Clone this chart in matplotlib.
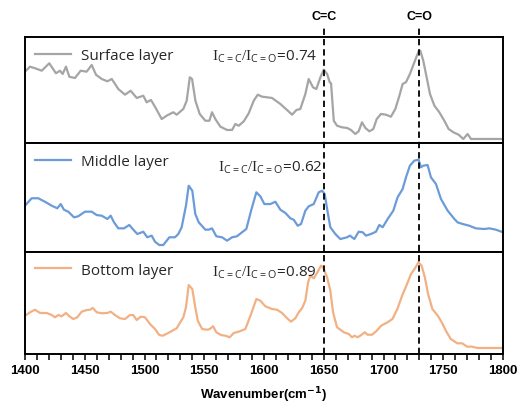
import matplotlib
matplotlib.use("Agg")
import matplotlib.pyplot as plt
from matplotlib.lines import Line2D
from matplotlib.transforms import blended_transform_factory
import numpy as np

# ---------------- data ----------------
surface_wn = [1400, 1404.2, 1408.4, 1414.0, 1420.3, 1425.9, 1429.3, 1431.5, 1434.3, 1437.1,
              1441.8, 1446.6, 1451.6, 1455.8, 1459.4, 1464.2, 1468.9, 1472.6, 1478.1, 1483.7,
              1488.4, 1493.5, 1499.0, 1501.8, 1505.4, 1508.8, 1514.4, 1518.6, 1524.1, 1526.9,
              1532.5, 1535.3, 1537.9, 1539.8, 1542.6, 1546.2, 1550.9, 1554.3, 1556.5, 1559.3,
              1563.5, 1569.1, 1573.3, 1576.0, 1578.9, 1583.1, 1587.2, 1591.4, 1594.8, 1598.4,
              1606.7, 1613.7, 1619.3, 1623.5, 1627.1, 1630.4, 1634.6, 1637.4, 1641.0, 1643.8,
              1647.2, 1650.0, 1652.8, 1655.0, 1656.1, 1658.4, 1661.1, 1665.3, 1669.5, 1672.8,
              1676.4, 1679.2, 1682.0, 1684.8, 1688.2, 1691.5, 1694.3, 1697.9, 1702.1, 1706.2,
              1709.9, 1713.3, 1716.0, 1718.8, 1722.1, 1725.8, 1729.4, 1730.8, 1733.3, 1736.1,
              1738.9, 1742.6, 1746.7, 1750.9, 1754.5, 1758.5, 1762.9, 1766.8, 1770.4, 1773.2,
              1800]
surface_int = [0.673, 0.720, 0.705, 0.682, 0.752, 0.658, 0.682, 0.651, 0.720, 0.625,
               0.613, 0.682, 0.673, 0.736, 0.644, 0.604, 0.582, 0.604, 0.509, 0.456,
               0.493, 0.425, 0.446, 0.384, 0.406, 0.342, 0.226, 0.258, 0.290, 0.267,
               0.321, 0.399, 0.620, 0.604, 0.399, 0.274, 0.210, 0.210, 0.290, 0.226,
               0.154, 0.123, 0.123, 0.179, 0.163, 0.205, 0.280, 0.399, 0.456, 0.437,
               0.425, 0.368, 0.311, 0.267, 0.311, 0.321, 0.462, 0.604, 0.525, 0.509,
               0.620, 0.692, 0.651, 0.573, 0.563, 0.210, 0.163, 0.148, 0.142, 0.123,
               0.085, 0.110, 0.195, 0.142, 0.110, 0.132, 0.226, 0.274, 0.267, 0.248,
               0.321, 0.446, 0.557, 0.573, 0.651, 0.761, 0.865, 0.871, 0.776, 0.620,
               0.462, 0.352, 0.290, 0.210, 0.132, 0.101, 0.078, 0.038, 0.085, 0.038,
               0.038]

middle_wn = [1400, 1405.6, 1411.1, 1416.7, 1422.3, 1427.0, 1429.9, 1432.6, 1436.2, 1441.0,
             1444.6, 1450.2, 1455.8, 1460.0, 1464.2, 1468.9, 1471.7, 1474.5, 1478.1, 1482.8,
             1487.3, 1490.6, 1494.0, 1499.0, 1502.3, 1506.0, 1508.8, 1512.4, 1515.7, 1520.8,
             1525.5, 1528.3, 1531.1, 1534.7, 1537.0, 1540.0, 1542.5, 1545.4, 1550.9, 1553.8,
             1556.5, 1560.1, 1564.9, 1569.1, 1573.3, 1577.4, 1581.6, 1585.2, 1589.2, 1593.6,
             1596.9, 1600.3, 1605.3, 1609.5, 1613.7, 1617.9, 1622.1, 1624.9, 1628.2, 1631.0,
             1634.6, 1637.4, 1641.6, 1645.8, 1648.6, 1650.8, 1653.3, 1655.5, 1659.7, 1663.9,
             1669.5, 1671.9, 1675.6, 1679.2, 1682.6, 1685.3, 1689.5, 1693.7, 1696.5, 1699.3,
             1703.5, 1708.2, 1711.8, 1716.0, 1718.8, 1722.1, 1725.8, 1729.4, 1731.3, 1733.3,
             1736.9, 1739.7, 1743.9, 1748.1, 1753.7, 1759.3, 1762.0, 1766.2, 1771.8, 1777.3,
             1784.3, 1788.5, 1794.0, 1800]
middle_int = [0.425, 0.493, 0.493, 0.461, 0.425, 0.401, 0.440, 0.388, 0.370, 0.318,
              0.328, 0.370, 0.370, 0.339, 0.333, 0.303, 0.333, 0.272, 0.217, 0.217,
              0.248, 0.205, 0.165, 0.186, 0.135, 0.150, 0.094, 0.064, 0.064, 0.135,
              0.135, 0.165, 0.227, 0.425, 0.608, 0.562, 0.349, 0.272, 0.205, 0.205,
              0.217, 0.144, 0.135, 0.104, 0.135, 0.144, 0.181, 0.211, 0.379, 0.548,
              0.511, 0.440, 0.440, 0.461, 0.388, 0.358, 0.309, 0.296, 0.241, 0.257,
              0.379, 0.419, 0.440, 0.548, 0.562, 0.532, 0.364, 0.227, 0.165, 0.119,
              0.135, 0.150, 0.119, 0.186, 0.181, 0.150, 0.165, 0.186, 0.248, 0.227,
              0.303, 0.379, 0.502, 0.578, 0.685, 0.792, 0.838, 0.847, 0.777, 0.792,
              0.798, 0.685, 0.624, 0.486, 0.379, 0.303, 0.272, 0.257, 0.241, 0.217,
              0.211, 0.217, 0.205, 0.181]

bottom_wn = [1400, 1404.2, 1408.4, 1412.6, 1418.2, 1422.3, 1425.1, 1427.9, 1430.7, 1434.3,
             1437.1, 1440.4, 1443.8, 1447.4, 1451.6, 1454.4, 1456.7, 1460.0, 1464.2, 1468.9,
             1471.7, 1475.3, 1479.5, 1483.7, 1487.9, 1490.6, 1493.5, 1496.8, 1500.4, 1504.6,
             1508.8, 1512.4, 1515.2, 1519.9, 1526.9, 1532.5, 1534.7, 1537.0, 1540.0, 1542.5,
             1544.6, 1548.2, 1552.3, 1554.6, 1557.4, 1560.1, 1564.1, 1567.7, 1571.3, 1574.7,
             1578.9, 1584.4, 1589.2, 1593.6, 1596.9, 1601.1, 1606.7, 1610.9, 1615.1, 1619.3,
             1622.6, 1626.2, 1629.1, 1631.8, 1634.6, 1636.9, 1638.8, 1641.6, 1645.0, 1647.7,
             1649.4, 1652.8, 1655.5, 1657.8, 1661.1, 1666.8, 1670.9, 1673.6, 1675.8, 1678.5,
             1681.7, 1684.4, 1686.6, 1690.4, 1693.9, 1698.0, 1703.4, 1707.5, 1711.6, 1715.6,
             1719.7, 1723.0, 1726.5, 1729.2, 1731.9, 1734.6, 1737.3, 1740.9, 1745.5, 1749.5,
             1752.2, 1756.3, 1761.7, 1765.8, 1769.9, 1773.9, 1778.8, 1800]
bottom_int = [0.375, 0.409, 0.434, 0.402, 0.402, 0.382, 0.360, 0.382, 0.370, 0.402,
              0.370, 0.343, 0.360, 0.415, 0.431, 0.434, 0.451, 0.409, 0.399, 0.402,
              0.415, 0.382, 0.350, 0.343, 0.382, 0.382, 0.333, 0.366, 0.360, 0.294,
              0.245, 0.186, 0.179, 0.206, 0.252, 0.360, 0.458, 0.676, 0.637, 0.458,
              0.326, 0.245, 0.238, 0.245, 0.272, 0.213, 0.186, 0.179, 0.164, 0.206,
              0.219, 0.245, 0.392, 0.539, 0.523, 0.468, 0.441, 0.434, 0.402, 0.350,
              0.317, 0.350, 0.409, 0.448, 0.523, 0.703, 0.768, 0.742, 0.807, 0.866,
              0.850, 0.752, 0.621, 0.409, 0.262, 0.213, 0.196, 0.164, 0.179, 0.164,
              0.189, 0.213, 0.189, 0.189, 0.223, 0.277, 0.311, 0.343, 0.441, 0.572,
              0.686, 0.784, 0.843, 0.899, 0.866, 0.752, 0.588, 0.441, 0.375, 0.294,
              0.228, 0.147, 0.105, 0.105, 0.072, 0.072, 0.059, 0.059]

layer_names = ["Surface layer", "Middle layer", "Bottom layer"]
ratios = ["0.74", "0.62", "0.89"]
peak_names = ["C=C", "C=O"]
peak_positions = [1650, 1730]
x_ticks = [1400, 1450, 1500, 1550, 1600, 1650, 1700, 1750, 1800]

# ---------------- styling ----------------
plt.rcParams['font.family'] = ['Open Sans', 'DejaVu Sans']
plt.rcParams['mathtext.fontset'] = 'custom'
plt.rcParams['mathtext.rm'] = 'Liberation Serif'
plt.rcParams['mathtext.sf'] = 'Open Sans'

colors = ["#a5a5a5", "#6c9bd9", "#f2b184"]
series = [(surface_wn, surface_int), (middle_wn, middle_int), (bottom_wn, bottom_int)]

W, H = 532, 406
fig = plt.figure(figsize=(W / 100, H / 100), dpi=100)
left, right = 25 / W, 503 / W
tops = [38, 144, 253]
bots = [144, 253, 355]
text_right = [1645, 1649, 1644]
text_y = [0.82, 0.78, 0.81]

axes = []
for i in range(3):
    ax = fig.add_axes([left, 1 - bots[i] / H, right - left, (bots[i] - tops[i]) / H])
    axes.append(ax)
    wn, it = series[i]
    ax.plot(wn, it, color=colors[i], lw=1.6, label=layer_names[i], solid_joinstyle='round')
    ax.set_xlim(1400, 1800)
    ax.set_ylim(0, 1)
    ax.set_yticks([])
    for s in ax.spines.values():
        s.set_linewidth(1.4)
        s.set_color('black')
    ax.legend(loc='upper left', bbox_to_anchor=(0.02, 0.895), frameon=False,
              borderaxespad=0, borderpad=0, handlelength=2.4, handletextpad=0.65,
              prop={'family': 'Open Sans', 'size': 11}, labelcolor='#262626')
    ax.text(text_right[i], text_y[i],
            r'$\mathrm{I}_{\mathsf{C=C}}/\mathrm{I}_{\mathsf{C=O}}$' + '=' + ratios[i],
            ha='right', va='center', fontsize=11, color='#262626',
            transform=blended_transform_factory(ax.transData, ax.transAxes))
    ax.set_xticks(x_ticks)
    ax.set_xticks(np.arange(1400, 1801, 10), minor=True)
    if i < 2:
        ax.tick_params(axis='x', which='both', length=0, labelbottom=False)
    else:
        ax.tick_params(axis='x', which='both', direction='out', length=4, width=1.1,
                       labelsize=9.5, pad=3)
        for lab in ax.get_xticklabels():
            lab.set_fontweight('bold')
            lab.set_family(['Liberation Sans', 'DejaVu Sans'])
        ax.set_xlabel('Wavenumber(cm$^{\\mathbf{-1}}$)', fontsize=9.5, fontweight='bold',
                      family=['Liberation Sans', 'DejaVu Sans'], labelpad=6)

# dashed marker lines spanning all panels
tr = blended_transform_factory(axes[0].transData, fig.transFigure)
for name, pos in zip(peak_names, peak_positions):
    fig.add_artist(Line2D([pos, pos], [1 - 355 / H, 1 - 27 / H], transform=tr,
                          color='black', lw=1.3, ls=(0, (3.5, 2.2))))
    fig.text(pos, 1 - 17 / H, name, transform=tr, ha='center', va='center',
             fontsize=9, fontweight='bold', family=['Liberation Sans', 'DejaVu Sans'])

fig.savefig('out.png', dpi=100)
